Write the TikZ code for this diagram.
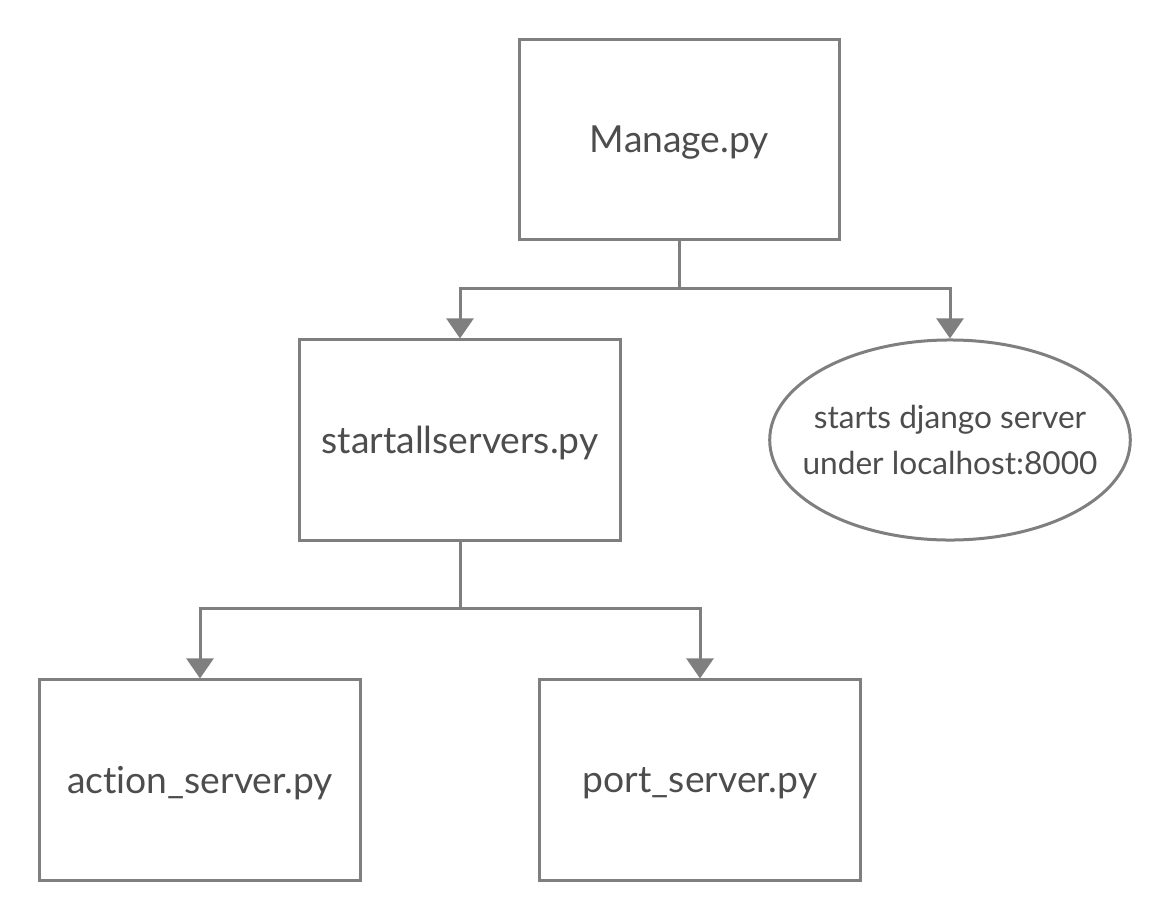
\documentclass[tikz,border=0pt]{standalone}
\usepackage{fontspec}
\setmainfont{Lato}[Ligatures=NoCommon]
\usepackage{tikz}
\usetikzlibrary{shapes.geometric, arrows.meta}

\definecolor{linegray}{HTML}{7F7F7F}
\definecolor{textgray}{HTML}{4D4D4D}

\tikzset{
  filebox/.style={draw=linegray, line width=0.075cm, rectangle, minimum width=8cm, minimum height=5cm,
    inner sep=0pt, text depth=0pt, text=textgray, font=\fontsize{26.5}{32}\selectfont},
  note/.style={draw=linegray, line width=0.075cm, ellipse, minimum width=8.55cm, minimum height=5cm,
    inner xsep=-0.5cm, inner ysep=0pt, text=textgray, align=center, font=\fontsize{22.5}{32.5}\selectfont},
  link/.style={draw=linegray, line width=0.075cm},
}

\begin{document}
\begin{tikzpicture}[x=0.025cm, y=-0.025cm, >={Triangle[width=0.67cm, length=0.5cm]}]
      \useasboundingbox (0,0) rectangle (1160,921);

      % Nodes
      \node[filebox] (manage) at (679.5, 139.5) {Manage.py};
      \node[filebox] (startall) at (460, 440) {startallservers.py};
      \node[note] (django) at (950, 440) {starts django server\\under localhost:8000};
      \node[filebox] (action) at (200, 780) {action\_server.py};
      \node[filebox] (port) at (700, 780) {port\_server.py};

      % Split points
      \coordinate (split1) at (679.5, 288);
      \coordinate (split2) at (460, 608);

      % Edges
      \draw[link] (manage) -- (split1);
      \draw[link, ->] (split1) -| (startall);
      \draw[link, ->] (split1) -| (django);
      \draw[link] (startall) -- (split2);
      \draw[link, ->] (split2) -| (action);
      \draw[link, ->] (split2) -| (port);
    \end{tikzpicture}
\end{document}
